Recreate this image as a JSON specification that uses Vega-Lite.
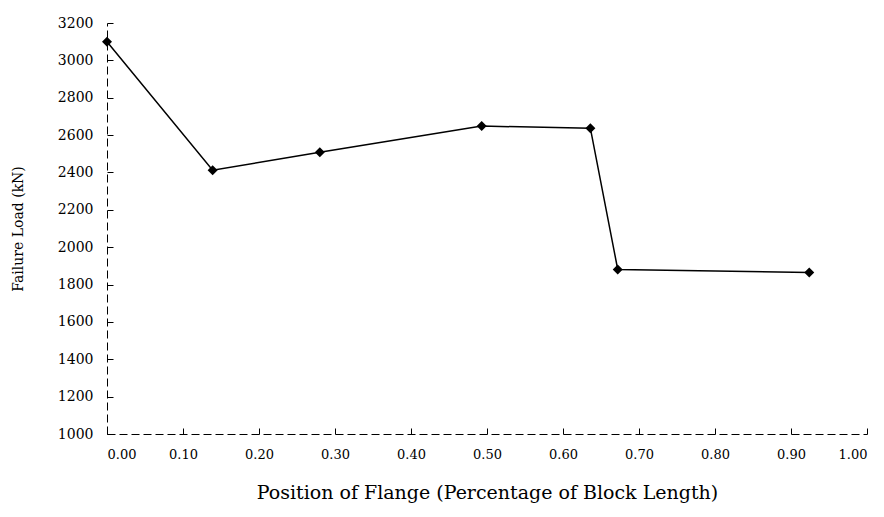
{
  "$schema": "https://vega.github.io/schema/vega-lite/v6.json",
  "autosize": "none",
  "width": 760,
  "height": 411,
  "padding": {"left": 107, "top": 23, "right": 17, "bottom": 83},
  "background": "white",
  "config": {
    "view": {"stroke": null},
    "font": "DejaVu Serif",
    "axis": {"grid": false, "domainColor": "#000", "tickColor": "#000", "labelColor": "#000", "titleColor": "#000", "labelFont": "DejaVu Serif", "titleFont": "DejaVu Serif", "titleFontWeight": "normal"}
  },
  "data": {
    "values": [
      {"pos": 0.0, "load": 3100},
      {"pos": 0.139, "load": 2412},
      {"pos": 0.28, "load": 2508},
      {"pos": 0.493, "load": 2648},
      {"pos": 0.636, "load": 2637},
      {"pos": 0.672, "load": 1881},
      {"pos": 0.924, "load": 1865}
    ]
  },
  "encoding": {
    "x": {
      "field": "pos", "type": "quantitative",
      "scale": {"domain": [0, 1], "nice": false, "zero": false},
      "axis": {
        "values": [0, 0.1, 0.2, 0.3, 0.4, 0.5, 0.6, 0.7, 0.8, 0.9, 1.0],
        "format": ".2f",
        "title": "Position of Flange (Percentage of Block Length)",
        "titleFontSize": 19,
        "titlePadding": 22,
        "labelFontSize": 13,
        "labelPadding": 20,
        "tickSize": -6,
        "domainDash": [8, 4],
        "domainWidth": 1
      }
    },
    "y": {
      "field": "load", "type": "quantitative",
      "scale": {"domain": [1000, 3200], "nice": false, "zero": false},
      "axis": {
        "values": [1000, 1200, 1400, 1600, 1800, 2000, 2200, 2400, 2600, 2800, 3000, 3200],
        "format": "d",
        "title": "Failure Load (kN)",
        "titleFontSize": 14,
        "titlePadding": 32,
        "labelFontSize": 14,
        "labelPadding": 20,
        "tickSize": -6,
        "domainDash": [8, 4],
        "domainWidth": 1
      }
    }
  },
  "layer": [
    {"mark": {"type": "line", "color": "#000", "strokeWidth": 1.5}},
    {"mark": {"type": "point", "shape": "diamond", "filled": true, "color": "#000", "size": 100, "opacity": 1}}
  ]
}
